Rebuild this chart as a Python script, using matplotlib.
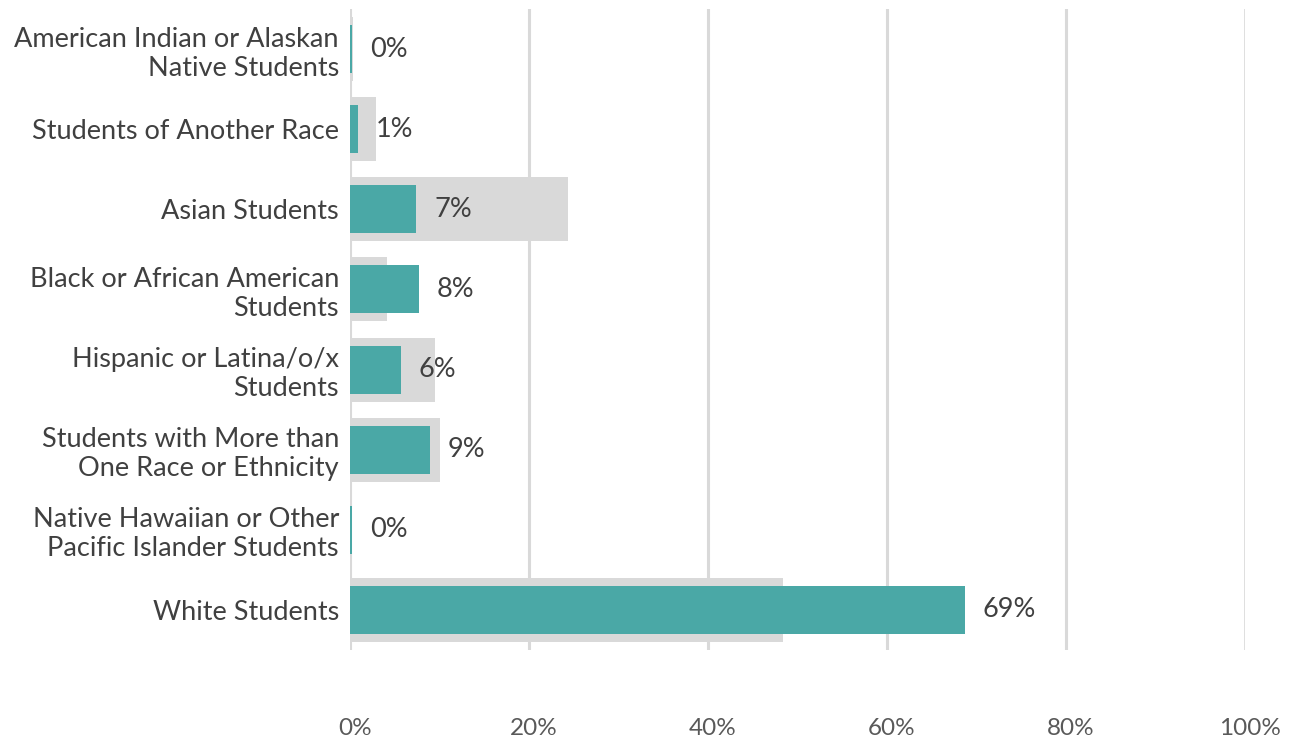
import numpy as np
import matplotlib
matplotlib.use("Agg")
import matplotlib.pyplot as plt
from matplotlib.transforms import ScaledTranslation

plt.rcParams['font.family'] = ['Lato', 'DejaVu Sans']

# Groups, top to bottom
groups = [
    "American Indian or Alaskan\nNative Students",
    "Students of Another Race",
    "Asian Students",
    "Black or African American\nStudents",
    "Hispanic or Latina/o/x\nStudents",
    "Students with More than\nOne Race or Ethnicity",
    "Native Hawaiian or Other\nPacific Islander Students",
    "White Students",
]
# share of students (%) - teal bars
students = [0.2, 0.9, 7.4, 7.7, 5.7, 8.9, 0.2, 68.7]
# comparison share (%) - gray background bars
comparison = [0.3, 2.9, 24.4, 4.1, 9.5, 10.0, 0.2, 48.4]
xticks = [0, 20, 40, 60, 80, 100]

teal = '#4aa8a6'
gray = '#d9d9d9'
text_col = '#404040'
fs = 19.5

fig = plt.figure(figsize=(12.98, 7.42), dpi=100)
ax = fig.add_axes([350 / 1298, 1 - 650 / 742, 895 / 1298, 641 / 742])

y = np.arange(len(groups))
ax.barh(y, comparison, height=0.8, color=gray, zorder=2)
ax.barh(y, students, height=0.6, color=teal, zorder=3)

for yi, v in zip(y, students):
    ax.text(v + 2.0, yi, f"{v:.0f}%", va='center', ha='left',
            fontsize=fs, color=text_col, zorder=4)

ax.set_xlim(0, 100)
ax.set_ylim(len(groups) - 0.5, -0.5)
ax.set_yticks(y)
ax.set_yticklabels(groups, fontsize=fs, color=text_col)
ax.set_xticks(xticks)
ax.set_xticklabels([f"{t}%" for t in xticks], fontsize=17.5, color='#595959')
ax.tick_params(axis='y', length=0, pad=8)
ax.tick_params(axis='x', length=0, pad=49)
shift = ScaledTranslation(5 / 100, 0, fig.dpi_scale_trans)
for lab in ax.get_xticklabels():
    lab.set_transform(lab.get_transform() + shift)

for t in xticks:
    ax.axvline(t, color=gray, lw=2.2 if t < 100 else 1.2, zorder=1)

for s in ax.spines.values():
    s.set_visible(False)

fig.savefig("out.png", dpi=100)
